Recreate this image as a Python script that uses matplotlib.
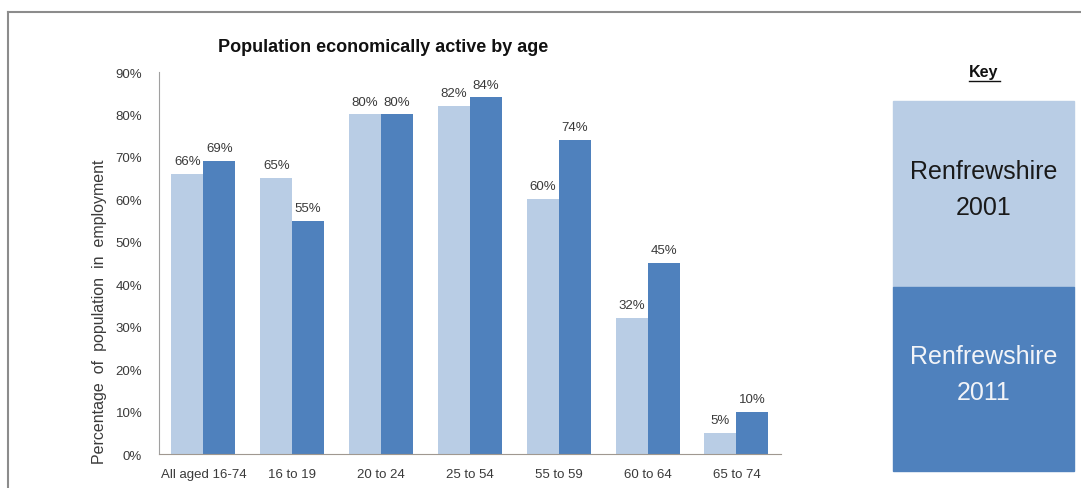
import matplotlib.pyplot as plt
import matplotlib.patches as mpatches
from matplotlib.lines import Line2D
import numpy as np

plt.rcParams['font.family'] = ['Liberation Sans', 'DejaVu Sans']

age_groups = ['All aged 16-74', '16 to 19', '20 to 24', '25 to 54',
              '55 to 59', '60 to 64', '65 to 74']
active_2001 = [66, 65, 80, 82, 60, 32, 5]
active_2011 = [69, 55, 80, 84, 74, 45, 10]
series_names = ['Renfrewshire\n2001', 'Renfrewshire\n2011']

light_blue = '#b9cde5'
dark_blue = '#4f81bd'
text_grey = '#3a3a3a'

fig = plt.figure(figsize=(10.81, 4.89), dpi=100)
ax = fig.add_axes([0.147, 0.0695, 0.5754, 0.7812])

x = np.arange(len(age_groups))
w = 0.36
bars_a = ax.bar(x - w / 2, active_2001, w, color=light_blue)
bars_b = ax.bar(x + w / 2, active_2011, w, color=dark_blue)

# percentage labels over each bar
for bars, vals in [(bars_a, active_2001), (bars_b, active_2011)]:
    for b, v in zip(bars, vals):
        ax.annotate(f'{v}%', (b.get_x() + b.get_width() / 2, v),
                    xytext=(0, 5), textcoords='offset points',
                    ha='center', va='bottom', fontsize=9.5, color=text_grey)

ax.set_xlim(-0.5, len(age_groups) - 0.5)
ax.set_ylim(0, 90)
ax.set_yticks(range(0, 91, 10))
ax.set_yticklabels([f'{t}%' for t in range(0, 91, 10)])
ax.set_xticks(x)
ax.set_xticklabels(age_groups)
ax.tick_params(axis='both', length=0, labelsize=9.5, colors=text_grey)
ax.tick_params(axis='y', pad=12)
ax.tick_params(axis='x', pad=10)
for side in ['top', 'right']:
    ax.spines[side].set_visible(False)
ax.spines['left'].set_color('#a0a0a0')
ax.spines['bottom'].set_color('#a09890')

fig.text(383 / 1081, 1 - 47 / 489, 'Population economically active by age',
         ha='center', va='center', fontsize=13, fontweight='bold', color='#111111')
fig.text(100 / 1081, 1 - 312 / 489, 'Percentage  of  population  in  employment',
         rotation=90, ha='center', va='center', fontsize=11.5, color=text_grey)

# key panel on the right
fig.text(984 / 1081, 1 - 73 / 489, 'Key', ha='center', va='center',
         fontsize=11.5, fontweight='bold', color='#111111')
fig.add_artist(Line2D([969 / 1081, 1000 / 1081], [1 - 82 / 489, 1 - 82 / 489],
                      color='#111111', lw=1))
kx0, kx1 = 893 / 1081, 1074 / 1081
ky = [1 - 102 / 489, 1 - 288 / 489, 1 - 472 / 489]
key_colors = [light_blue, dark_blue]
key_text = ['#1a1a1a', '#f2f4f8']
for i in range(2):
    fig.add_artist(mpatches.Rectangle((kx0, ky[i + 1]), kx1 - kx0, ky[i] - ky[i + 1],
                                      transform=fig.transFigure, color=key_colors[i]))
    fig.text((kx0 + kx1) / 2, (ky[i] + ky[i + 1]) / 2 + 0.01, series_names[i],
             ha='center', va='center', fontsize=18, linespacing=1.6,
             color=key_text[i])

# outer frame lines
fig.add_artist(Line2D([8 / 1081, 1], [1 - 13 / 489, 1 - 13 / 489], color='#8c8c8c', lw=1.5))
fig.add_artist(Line2D([8 / 1081, 8 / 1081], [0, 1 - 13 / 489], color='#8c8c8c', lw=1.5))

fig.savefig('out.png', dpi=100)
